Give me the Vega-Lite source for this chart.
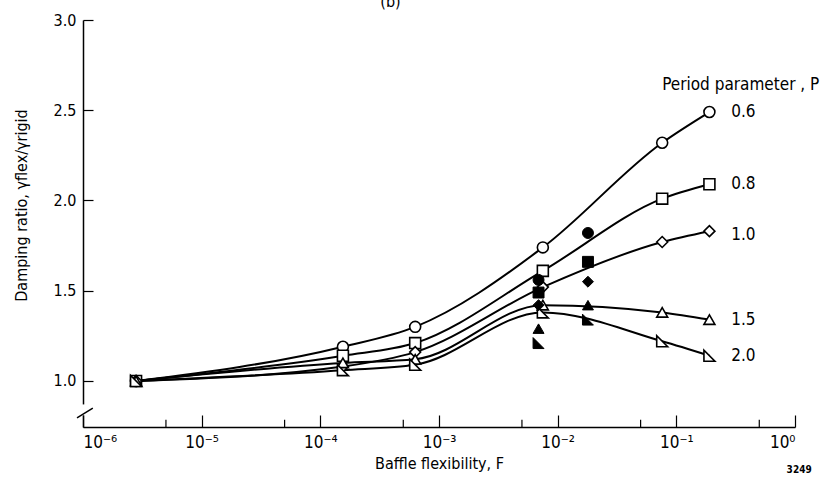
{
  "$schema": "https://vega.github.io/schema/vega-lite/v6.json",
  "width": 712,
  "height": 407,
  "autosize": {"type": "none"},
  "padding": {"left": 83, "top": 20, "right": 36, "bottom": 55},
  "background": "white",
  "config": {
    "view": {"stroke": null},
    "font": "DejaVu Sans Condensed, Liberation Sans, sans-serif",
    "axis": {
      "domainColor": "black",
      "tickColor": "black",
      "labelColor": "black",
      "titleColor": "black",
      "domainWidth": 1.5,
      "tickWidth": 1.2,
      "grid": false
    }
  },
  "datasets": {
    "curves": [
      {"F": 2.8e-6, "ratio": 1.0, "P": "0.6"},
      {"F": 1.55e-4, "ratio": 1.19, "P": "0.6"},
      {"F": 6.3e-4, "ratio": 1.30, "P": "0.6"},
      {"F": 7.5e-3, "ratio": 1.74, "P": "0.6"},
      {"F": 0.076, "ratio": 2.32, "P": "0.6"},
      {"F": 0.19, "ratio": 2.49, "P": "0.6"},
      {"F": 2.8e-6, "ratio": 1.0, "P": "0.8"},
      {"F": 1.55e-4, "ratio": 1.14, "P": "0.8"},
      {"F": 6.3e-4, "ratio": 1.21, "P": "0.8"},
      {"F": 7.5e-3, "ratio": 1.61, "P": "0.8"},
      {"F": 0.076, "ratio": 2.01, "P": "0.8"},
      {"F": 0.19, "ratio": 2.09, "P": "0.8"},
      {"F": 2.8e-6, "ratio": 1.0, "P": "1.0"},
      {"F": 1.55e-4, "ratio": 1.08, "P": "1.0"},
      {"F": 6.3e-4, "ratio": 1.16, "P": "1.0"},
      {"F": 7.5e-3, "ratio": 1.52, "P": "1.0"},
      {"F": 0.076, "ratio": 1.77, "P": "1.0"},
      {"F": 0.19, "ratio": 1.83, "P": "1.0"},
      {"F": 2.8e-6, "ratio": 1.0, "P": "1.5"},
      {"F": 1.55e-4, "ratio": 1.10, "P": "1.5"},
      {"F": 6.3e-4, "ratio": 1.12, "P": "1.5"},
      {"F": 7.5e-3, "ratio": 1.42, "P": "1.5"},
      {"F": 0.076, "ratio": 1.38, "P": "1.5"},
      {"F": 0.19, "ratio": 1.34, "P": "1.5"},
      {"F": 2.8e-6, "ratio": 1.0, "P": "2.0"},
      {"F": 1.55e-4, "ratio": 1.06, "P": "2.0"},
      {"F": 6.3e-4, "ratio": 1.09, "P": "2.0"},
      {"F": 7.5e-3, "ratio": 1.38, "P": "2.0"},
      {"F": 0.076, "ratio": 1.22, "P": "2.0"},
      {"F": 0.19, "ratio": 1.14, "P": "2.0"}
    ],
    "filled": [
      {"F": 6.9e-3, "ratio": 1.56, "P": "0.6"},
      {"F": 6.9e-3, "ratio": 1.49, "P": "0.8"},
      {"F": 6.9e-3, "ratio": 1.42, "P": "1.0"},
      {"F": 6.9e-3, "ratio": 1.29, "P": "1.5"},
      {"F": 6.9e-3, "ratio": 1.21, "P": "2.0"},
      {"F": 0.018, "ratio": 1.82, "P": "0.6"},
      {"F": 0.018, "ratio": 1.66, "P": "0.8"},
      {"F": 0.018, "ratio": 1.55, "P": "1.0"},
      {"F": 0.018, "ratio": 1.42, "P": "1.5"},
      {"F": 0.018, "ratio": 1.34, "P": "2.0"}
    ],
    "labels": [
      {"F": 0.29, "ratio": 2.49, "text": "0.6"},
      {"F": 0.29, "ratio": 2.09, "text": "0.8"},
      {"F": 0.29, "ratio": 1.81, "text": "1.0"},
      {"F": 0.29, "ratio": 1.34, "text": "1.5"},
      {"F": 0.29, "ratio": 1.14, "text": "2.0"}
    ],
    "brk": [
      {"F": 8.9e-7, "ratio": 0.795},
      {"F": 1.21e-6, "ratio": 0.85}
    ]
  },
  "layer": [
    {
      "data": {"name": "curves"},
      "mark": {"type": "line", "interpolate": "monotone", "color": "black", "strokeWidth": 2},
      "encoding": {
        "x": {
          "field": "F", "type": "quantitative",
          "scale": {"type": "log", "domain": [1e-6, 1], "nice": false},
          "axis": {
            "values": [1e-6, 1e-5, 1e-4, 1e-3, 1e-2, 1e-1, 1],
            "labelExpr": "'10' + ['⁻⁶','⁻⁵','⁻⁴','⁻³','⁻²','⁻¹','⁰'][round(log(datum.value)/LN10)+6]",
            "tickSize": -12,
            "labelPadding": 19,
            "labelFontSize": 17,
            "labelFont": "DejaVu Sans Condensed, Liberation Sans, sans-serif",
            "title": "Baffle flexibility,  F",
            "titleFont": "DejaVu Sans Condensed, Liberation Sans, sans-serif",
            "titleFontSize": 16,
            "titleFontWeight": "normal",
            "titlePadding": 5
          }
        },
        "y": {
          "field": "ratio", "type": "quantitative",
          "scale": {"domain": [0.745, 3.0], "nice": false, "zero": false},
          "axis": {
            "values": [1.0, 1.5, 2.0, 2.5, 3.0],
            "format": ".1f",
            "tickSize": -10,
            "labelPadding": 17,
            "labelFontSize": 16,
            "labelFont": "DejaVu Sans Condensed, Liberation Sans, sans-serif",
            "title": "Damping ratio,  γflex/γrigid",
            "titleFont": "DejaVu Sans Condensed, Liberation Sans, sans-serif",
            "titleFontSize": 16,
            "titleFontWeight": "normal",
            "titlePadding": 24,
            "titleY": 185
          }
        },
        "detail": {"field": "P"}
      }
    },
    {
      "data": {"values": [{"F": 5e-6}, {"F": 5e-5}, {"F": 5e-4}, {"F": 5e-3}, {"F": 5e-2}, {"F": 5e-1}]},
      "mark": {"type": "rule", "color": "black", "strokeWidth": 1.2},
      "encoding": {
        "x": {"field": "F", "type": "quantitative"},
        "y": {"datum": 0.745},
        "y2": {"datum": 0.785}
      }
    },
    {
      "data": {"values": [{"F": 1e-6}]},
      "mark": {"type": "rule", "color": "white", "strokeWidth": 5, "clip": false},
      "encoding": {
        "x": {"field": "F", "type": "quantitative"},
        "y": {"datum": 0.81},
        "y2": {"datum": 0.87}
      }
    },
    {
      "data": {"name": "brk"},
      "mark": {"type": "line", "color": "black", "strokeWidth": 1.5, "clip": false},
      "encoding": {
        "x": {"field": "F", "type": "quantitative"},
        "y": {"field": "ratio", "type": "quantitative"}
      }
    },
    {
      "data": {"name": "curves"},
      "mark": {"type": "point", "filled": true, "fill": "white", "stroke": "black", "strokeWidth": 1.6, "opacity": 1},
      "encoding": {
        "x": {"field": "F", "type": "quantitative"},
        "y": {"field": "ratio", "type": "quantitative"},
        "shape": {
          "field": "P", "type": "nominal", "legend": null,
          "scale": {"domain": ["0.6", "0.8", "1.0", "1.5", "2.0"], "range": ["circle", "square", "diamond", "triangle-up", "M -1 -1 L -1 1 L 1 1 Z"]}
        },
        "size": {
          "field": "P", "type": "nominal", "legend": null,
          "scale": {"domain": ["0.6", "0.8", "1.0", "1.5", "2.0"], "range": [120, 120, 190, 150, 130]}
        }
      }
    },
    {
      "data": {"name": "filled"},
      "mark": {"type": "point", "filled": true, "fill": "black", "stroke": "black", "strokeWidth": 1, "opacity": 1},
      "encoding": {
        "x": {"field": "F", "type": "quantitative"},
        "y": {"field": "ratio", "type": "quantitative"},
        "shape": {"field": "P", "type": "nominal", "legend": null},
        "size": {"field": "P", "type": "nominal", "legend": null}
      }
    },
    {
      "data": {"name": "labels"},
      "mark": {"type": "text", "align": "left", "baseline": "middle", "fontSize": 17, "color": "black", "clip": false},
      "encoding": {
        "x": {"field": "F", "type": "quantitative"},
        "y": {"field": "ratio", "type": "quantitative"},
        "text": {"field": "text"}
      }
    },
    {
      "data": {"values": [{"F": 0.076, "ratio": 2.64, "text": "Period parameter ,   P"}]},
      "mark": {"type": "text", "align": "left", "baseline": "middle", "fontSize": 17, "color": "black", "clip": false},
      "encoding": {
        "x": {"field": "F", "type": "quantitative"},
        "y": {"field": "ratio", "type": "quantitative"},
        "text": {"field": "text"}
      }
    },
    {
      "data": {"values": [{"F": 0.85, "ratio": 0.506, "text": "3249"}]},
      "mark": {"type": "text", "align": "left", "baseline": "middle", "fontSize": 10, "fontWeight": "bold", "color": "black", "clip": false},
      "encoding": {
        "x": {"field": "F", "type": "quantitative"},
        "y": {"field": "ratio", "type": "quantitative"},
        "text": {"field": "text"}
      }
    },
    {
      "data": {"values": [{"F": 3.2e-4, "ratio": 3.07, "text": "(b)"}]},
      "mark": {"type": "text", "align": "left", "baseline": "alphabetic", "fontSize": 16, "color": "black", "clip": false},
      "encoding": {
        "x": {"field": "F", "type": "quantitative"},
        "y": {"field": "ratio", "type": "quantitative"},
        "text": {"field": "text"}
      }
    }
  ]
}
